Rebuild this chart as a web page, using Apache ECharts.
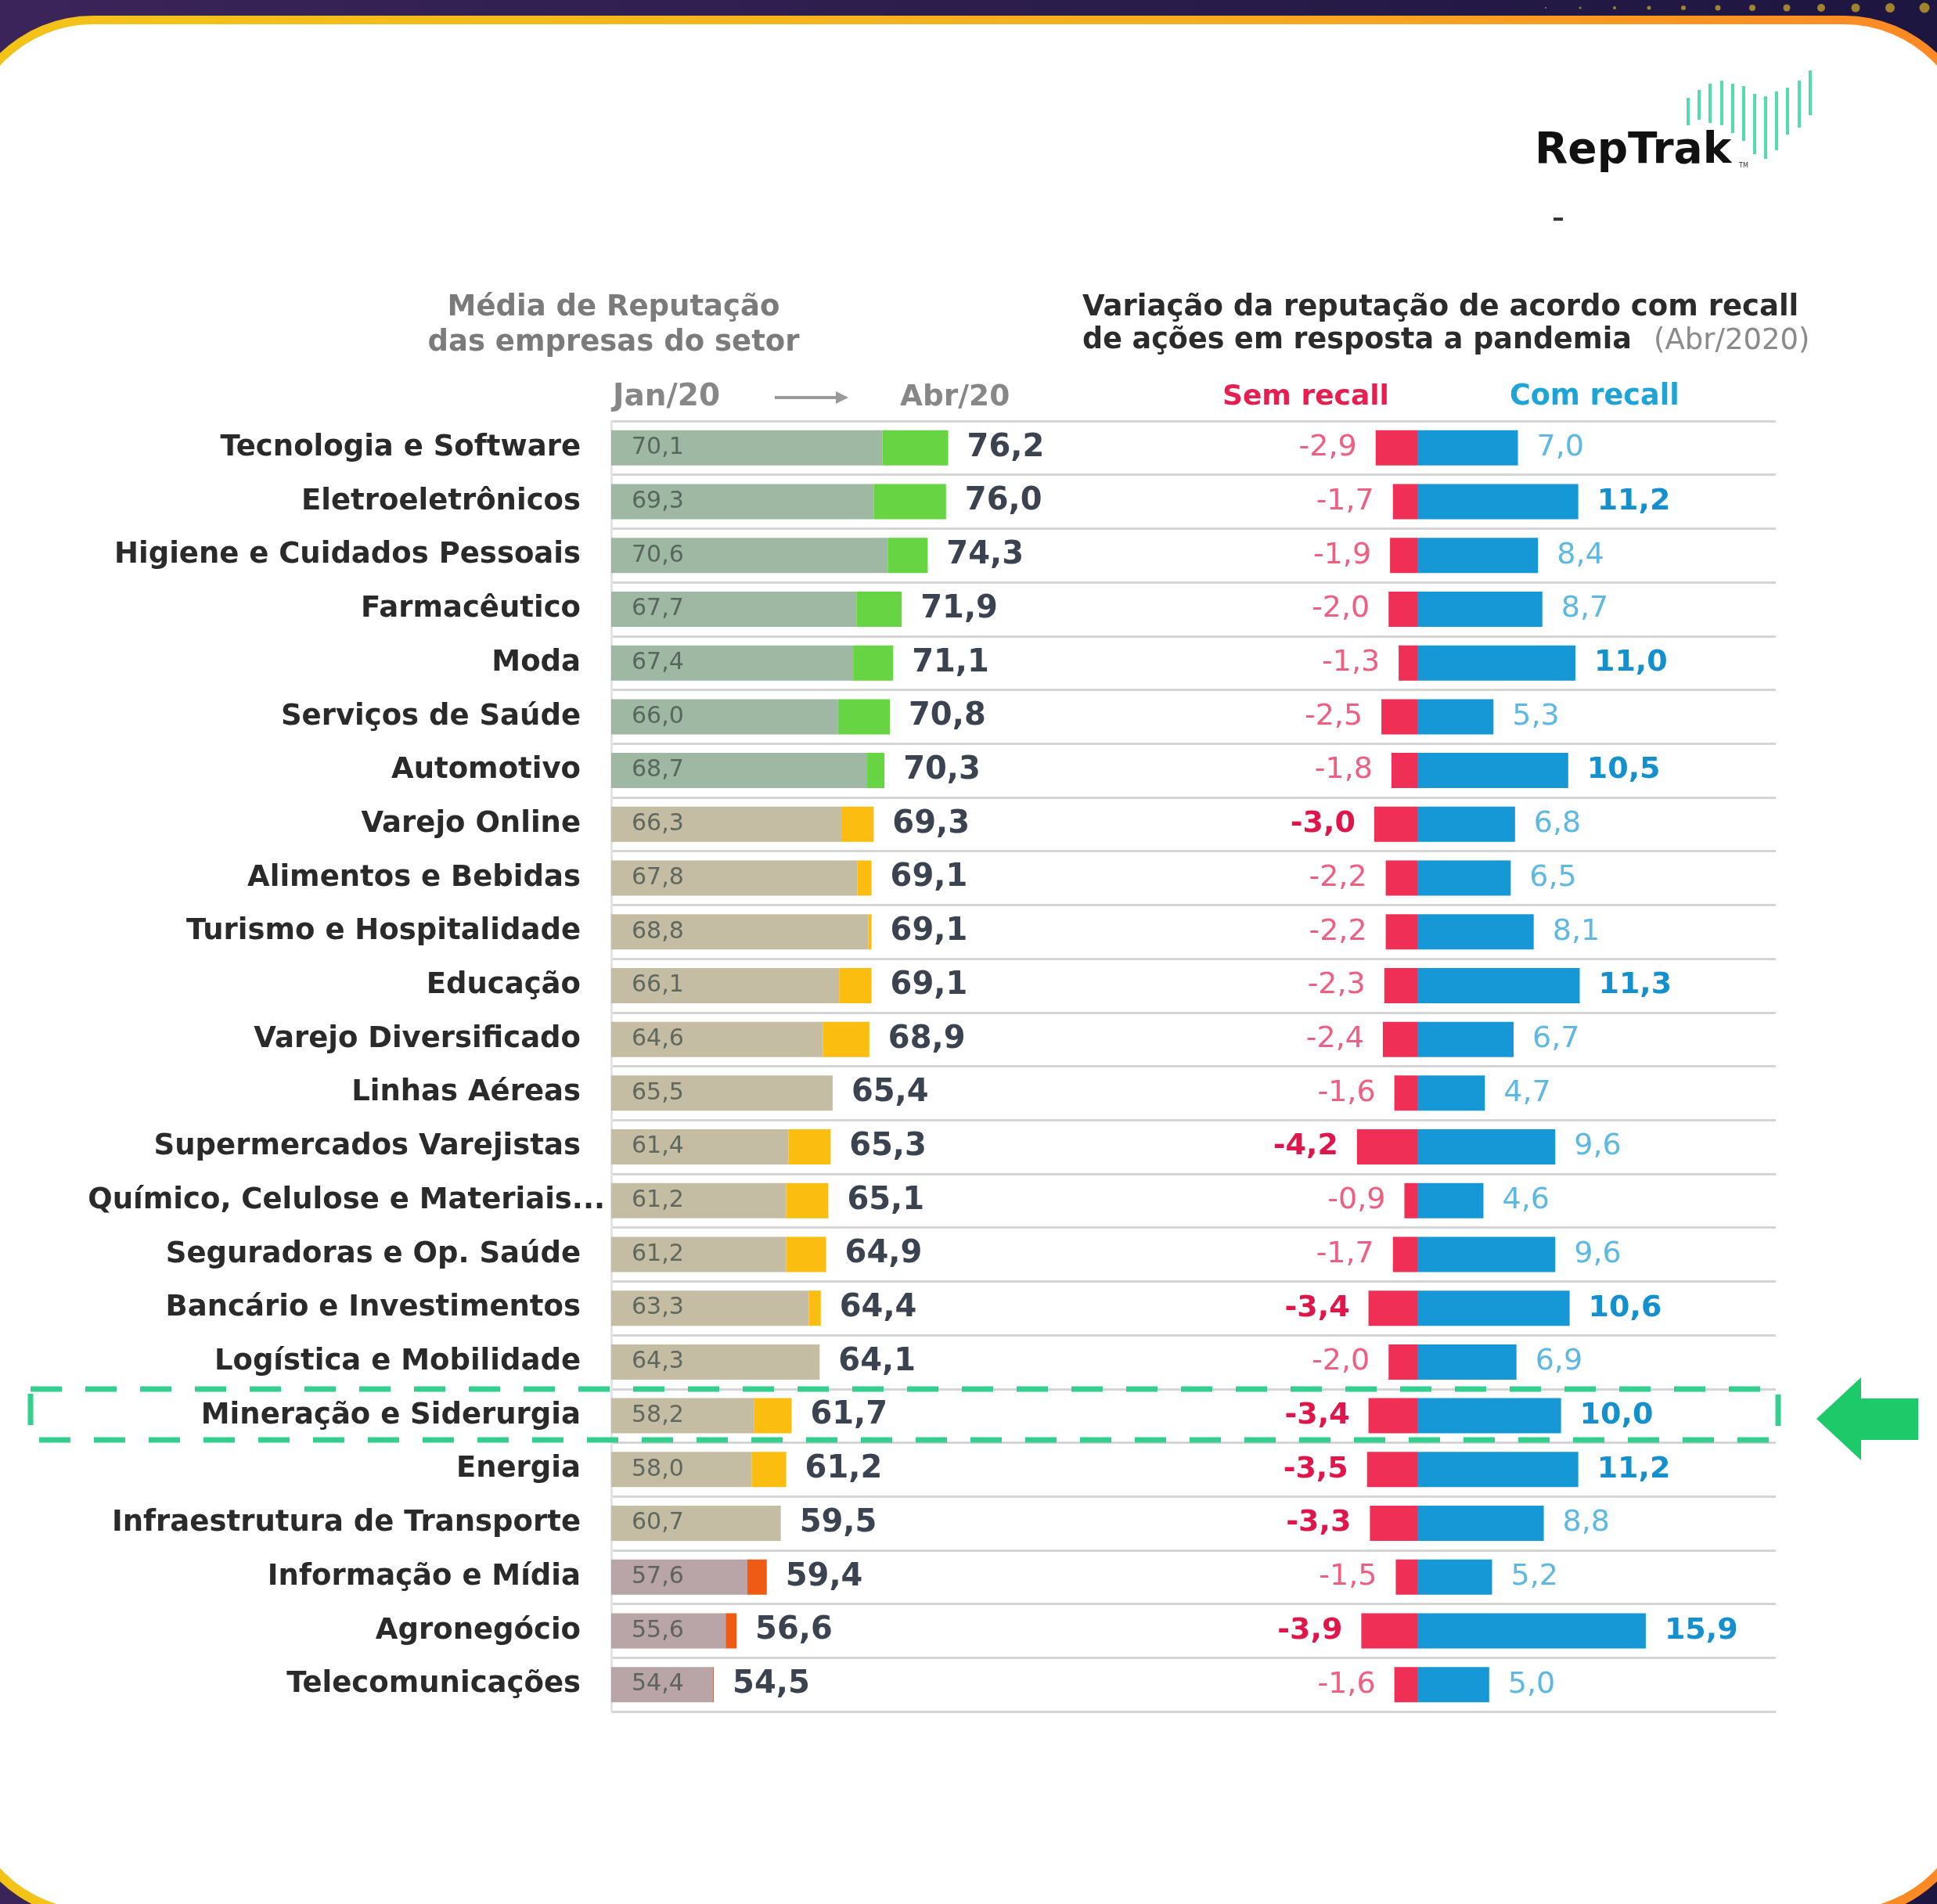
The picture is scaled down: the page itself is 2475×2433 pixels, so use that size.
<!DOCTYPE html>
<html lang="pt-BR">
<head>
<meta charset="UTF-8">
<title>Reputação por setor - RepTrak</title>
<script src="https://cdn.jsdelivr.net/npm/echarts@6.0.0/dist/echarts.min.js"></script>
<style>
  html, body { margin: 0; padding: 0; background: #241844; }
  #chart { width: 2475px; height: 2433px; }
</style>
</head>
<body>
<div id="chart"></div>
<script>
// sectors, top to bottom
const setores = [
  'Tecnologia e Software', 'Eletroeletrônicos', 'Higiene e Cuidados Pessoais', 'Farmacêutico',
  'Moda', 'Serviços de Saúde', 'Automotivo', 'Varejo Online', 'Alimentos e Bebidas',
  'Turismo e Hospitalidade', 'Educação', 'Varejo Diversificado', 'Linhas Aéreas',
  'Supermercados Varejistas', 'Químico, Celulose e Materiais...', 'Seguradoras e Op. Saúde',
  'Bancário e Investimentos', 'Logística e Mobilidade', 'Mineração e Siderurgia', 'Energia',
  'Infraestrutura de Transporte', 'Informação e Mídia', 'Agronegócio', 'Telecomunicações'
];

// reputation average, Jan/20 and Abr/20
const jan20 = [70.1, 69.3, 70.6, 67.7, 67.4, 66.0, 68.7, 66.3, 67.8, 68.8, 66.1, 64.6,
  65.5, 61.4, 61.2, 61.2, 63.3, 64.3, 58.2, 58.0, 60.7, 57.6, 55.6, 54.4];
const abr20 = [76.2, 76.0, 74.3, 71.9, 71.1, 70.8, 70.3, 69.3, 69.1, 69.1, 69.1, 68.9,
  65.4, 65.3, 65.1, 64.9, 64.4, 64.1, 61.7, 61.2, 59.5, 59.4, 56.6, 54.5];

// variation by recall of pandemic actions (Abr/2020)
const semRecall = [-2.9, -1.7, -1.9, -2.0, -1.3, -2.5, -1.8, -3.0, -2.2, -2.2, -2.3, -2.4,
  -1.6, -4.2, -0.9, -1.7, -3.4, -2.0, -3.4, -3.5, -3.3, -1.5, -3.9, -1.6];
const comRecall = [7.0, 11.2, 8.4, 8.7, 11.0, 5.3, 10.5, 6.8, 6.5, 8.1, 11.3, 6.7,
  4.7, 9.6, 4.6, 9.6, 10.6, 6.9, 10.0, 11.2, 8.8, 5.2, 15.9, 5.0];

const FONT = '"DejaVu Sans", sans-serif';
const fmt = v => v.toFixed(1).replace('.', ',');
const tier = v => (v >= 70 ? 0 : v >= 60 ? 1 : 2);
const baseColors = ['#9fb8a3', '#c4bda3', '#b9a5a8'];
const incColors = ['#67d444', '#fbbd10', '#ef5a14'];

const baseData = jan20.map((v, i) => ({
  value: v,
  itemStyle: { color: baseColors[tier(Math.max(v, abr20[i]))] }
}));
const incData = abr20.map((v, i) => ({
  value: Math.max(0, +(v - jan20[i]).toFixed(1)),
  itemStyle: { color: incColors[tier(v)] }
}));
const semData = semRecall.map(v => ({
  value: v,
  label: v <= -3 ? { fontWeight: 'bold', color: '#e0164b' } : { color: '#ee5f82' }
}));
const comData = comRecall.map(v => ({
  value: v,
  label: v >= 10 ? { fontWeight: 'bold', color: '#1590cf' } : { color: '#5db9e4' }
}));

// layout
const gridTop = 538, rowsH = 1649;
const leftX = 781, leftScale = 13.8, leftMin = 45;
const leftW = 2269 - leftX;
const rightZero = 1811, rightScale = 18.36, rightMin = -5, rightMax = 20;

const chart = echarts.init(document.getElementById('chart'), null, { renderer: 'canvas' });

const logoBars = [
  [2157, 125, 160], [2171, 115, 153], [2185, 107, 157], [2200, 103, 160],
  [2214, 107, 170], [2228, 110, 180], [2242, 120, 197], [2256, 123, 203],
  [2270, 117, 192], [2284, 112, 172], [2299, 103, 163], [2313, 90, 147]
];
const dots = [];
for (let k = 0; k < 12; k++) {
  dots.push({
    type: 'circle', z: -9,
    shape: { cx: 1975 + k * 44, cy: 10, r: 1 + k * 0.5 },
    style: { fill: '#b8962a', opacity: 0.85 }
  });
}

const txt = (x, y, text, size, color, weight, align) => ({
  type: 'text', x, y,
  style: {
    text, fill: color, font: `${weight || 'bold'} ${size}px ${FONT}`,
    textAlign: align || 'left', textVerticalAlign: 'middle'
  }
});

chart.setOption({
  animation: false,
  backgroundColor: '#241844',
  grid: [
    { left: leftX, top: gridTop, width: leftW, height: rowsH },
    { left: rightZero + rightMin * rightScale, top: gridTop, width: (rightMax - rightMin) * rightScale, height: rowsH }
  ],
  xAxis: [
    { type: 'value', gridIndex: 0, min: leftMin, max: leftMin + leftW / leftScale, show: false },
    { type: 'value', gridIndex: 1, min: rightMin, max: rightMax, show: false }
  ],
  yAxis: [
    {
      type: 'category', gridIndex: 0, data: setores, inverse: true,
      axisLine: { show: true, lineStyle: { color: '#e4e4e4', width: 3 } },
      axisTick: { show: false },
      splitLine: { show: true, lineStyle: { color: '#d5d5d5', width: 3 } },
      axisLabel: {
        margin: 8,
        formatter: v => (v.endsWith('...') ? '{q|' + v + '}' : '{n|' + v + '}'),
        rich: {
          n: { fontFamily: FONT, fontWeight: 'bold', fontSize: 37, color: '#2a2a2a', padding: [0, 31, 0, 0] },
          q: { fontFamily: FONT, fontWeight: 'bold', fontSize: 37, color: '#2a2a2a' }
        }
      }
    },
    { type: 'category', gridIndex: 1, data: setores, inverse: true, show: false }
  ],
  series: [
    {
      name: 'Jan/20', type: 'bar', xAxisIndex: 0, yAxisIndex: 0, stack: 'rep',
      barWidth: 45, data: baseData,
      label: {
        show: true, position: 'insideLeft', distance: 26,
        formatter: p => fmt(jan20[p.dataIndex]),
        fontFamily: FONT, fontSize: 30, color: 'rgba(70,82,76,0.8)'
      }
    },
    {
      name: 'Abr/20', type: 'bar', xAxisIndex: 0, yAxisIndex: 0, stack: 'rep',
      barWidth: 45, data: incData,
      label: {
        show: true, position: 'right', distance: 24,
        formatter: p => fmt(abr20[p.dataIndex]),
        fontFamily: FONT, fontSize: 40, fontWeight: 'bold', color: '#3c4350'
      }
    },
    {
      name: 'Sem recall', type: 'bar', xAxisIndex: 1, yAxisIndex: 1,
      barWidth: 45, barGap: '-100%', data: semData,
      itemStyle: { color: '#ef2f55' },
      label: {
        show: true, position: 'left', distance: 24,
        formatter: p => fmt(p.value), fontFamily: FONT, fontSize: 38
      }
    },
    {
      name: 'Com recall', type: 'bar', xAxisIndex: 1, yAxisIndex: 1,
      barWidth: 45, barGap: '-100%', data: comData,
      itemStyle: { color: '#1798d6' },
      label: {
        show: true, position: 'right', distance: 24,
        formatter: p => fmt(p.value), fontFamily: FONT, fontSize: 38
      }
    }
  ],
  graphic: [
    // frame
    {
      type: 'rect', z: -10, shape: { x: 0, y: 0, width: 2475, height: 2433 },
      style: { fill: new echarts.graphic.LinearGradient(0, 0, 1, 0, [
        { offset: 0, color: '#3b2459' }, { offset: 1, color: '#1d1640' }]) }
    },
    ...dots,
    {
      type: 'rect', z: -8, shape: { x: -53, y: 20, width: 2581, height: 2432, r: 172 },
      style: { fill: new echarts.graphic.LinearGradient(0, 0, 1, 0, [
        { offset: 0, color: '#f3c418' }, { offset: 0.6, color: '#f5ad1e' }, { offset: 1, color: '#fd8724' }]) }
    },
    {
      type: 'rect', z: -7, shape: { x: -41, y: 31, width: 2557, height: 2409, r: 160 },
      style: { fill: '#ffffff' }
    },
    // logo
    ...logoBars.map(b => ({
      type: 'line', z: 5,
      shape: { x1: b[0], y1: b[1], x2: b[0], y2: b[2] },
      style: { stroke: '#36d39d', lineWidth: 4, opacity: 0.85 }
    })),
    txt(1961, 194, 'RepTrak', 55, '#111111'),
    txt(2222, 212, 'TM', 8, '#333333', 'normal'),
    { type: 'rect', shape: { x: 1985, y: 278, width: 12, height: 4 }, style: { fill: '#333333' } },
    // headers
    txt(784, 393, 'Média de Reputação', 37, '#7b7b7b', 'bold', 'center'),
    txt(784, 438, 'das empresas do setor', 37, '#7b7b7b', 'bold', 'center'),
    txt(1383, 393, 'Variação da reputação de acordo com recall', 37, '#2b2b2b'),
    txt(1383, 436, 'de ações em resposta a pandemia', 36.5, '#2b2b2b'),
    txt(2113, 436, '(Abr/2020)', 37, '#8a8a8a', 'normal'),
    txt(783, 508, 'Jan/20', 39, '#878787'),
    {
      type: 'line', shape: { x1: 990, y1: 508, x2: 1072, y2: 508 },
      style: { stroke: '#9a9a9a', lineWidth: 4 }
    },
    {
      type: 'polygon', shape: { points: [[1068, 500], [1084, 508], [1068, 516]] },
      style: { fill: '#9a9a9a' }
    },
    txt(1150, 508, 'Abr/20', 37.5, '#878787'),
    txt(1562, 508, 'Sem recall', 36, '#e61f50'),
    txt(1929, 508, 'Com recall', 36.5, '#1fa4d8'),
    // highlight of the sector
    {
      type: 'rect', z: 10, shape: { x: 39, y: 1775, width: 2233, height: 65 },
      style: { fill: null, stroke: '#34cf8f', lineWidth: 7, lineDash: [40, 30] }
    },
    {
      type: 'polygon', z: 10,
      shape: { points: [[2321, 1813], [2378, 1760], [2378, 1787], [2451, 1787], [2451, 1840], [2378, 1840], [2378, 1866]] },
      style: { fill: '#1ec96a' }
    }
  ]
});
</script>
</body>
</html>
